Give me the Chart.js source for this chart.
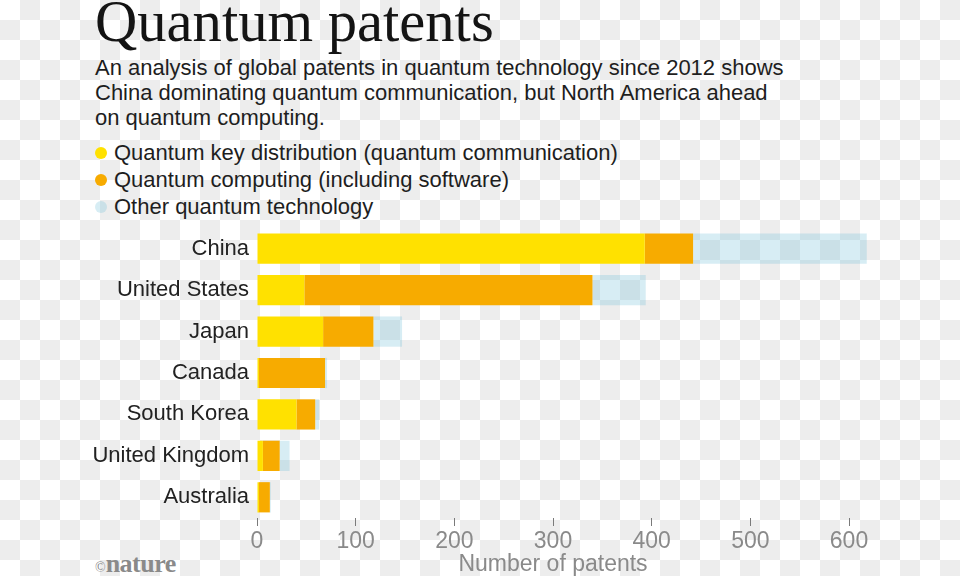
<!DOCTYPE html>
<html>
<head>
<meta charset="utf-8">
<script src="https://cdn.jsdelivr.net/npm/chart.js@4"></script>
<style>
  html, body { margin: 0; padding: 0; }
  body {
    width: 960px; height: 576px; position: relative; overflow: hidden;
    background: repeating-conic-gradient(#ededed 0 25%, #ffffff 0 50%) 0 0 / 40px 40px;
    font-family: "Liberation Sans", Arial, sans-serif;
  }
  #title {
    position: absolute; left: 95px; top: -7px;
    font-family: "Liberation Serif", serif; font-size: 58.6px; line-height: 58px;
    color: #141414;
  }
  #subtitle {
    position: absolute; left: 95px; top: 55px;
    font-size: 22px; line-height: 25px; color: #1e1e1e;
  }
  #legend { position: absolute; left: 95px; top: 139px; font-size: 22px; line-height: 27px; color: #1e1e1e; }
  #legend div { position: relative; padding-left: 19px; }
  #legend span {
    position: absolute; left: 0; top: 8px; width: 12px; height: 12px; border-radius: 50%;
  }
  #logo {
    position: absolute; left: 95px; top: 551px; color: #8a8a8a;
    font-family: "Liberation Serif", serif; font-weight: bold; font-size: 26px; line-height: 26px;
    letter-spacing: -0.5px;
  }
  #logo small { font-size: 14px; font-weight: normal; letter-spacing: 0; }
  #wrap { position: absolute; left: 0; top: 220px; width: 960px; height: 356px; }
</style>
</head>
<body>
<div id="title">Quantum patents</div>
<div id="subtitle">An analysis of global patents in quantum technology since 2012 shows<br>China dominating quantum communication, but North America ahead<br>on quantum computing.</div>
<div id="legend"></div>
<div id="logo"><small>©</small>nature</div>
<div id="wrap"><canvas id="chart"></canvas></div>

<script>
// data
const countries = ['China', 'United States', 'Japan', 'Canada', 'South Korea', 'United Kingdom', 'Australia'];
const keyDistribution = [393, 48, 67, 2, 40, 6, 2];
const computing = [49, 292, 51, 67, 19, 17, 11];
const otherTech = [176, 54, 29, 2, 4, 10, 1];
const xTicks = [0, 100, 200, 300, 400, 500, 600];

const seriesNames = [
  'Quantum key distribution (quantum communication)',
  'Quantum computing (including software)',
  'Other quantum technology'
];
const seriesColors = ['#ffe100', '#f7ab00', 'rgba(110,190,215,0.28)'];

// legend as html
const legendEl = document.getElementById('legend');
seriesNames.forEach((name, i) => {
  const row = document.createElement('div');
  row.innerHTML = `<span style="background:${seriesColors[i]}"></span>${name}`;
  legendEl.appendChild(row);
});

const ctx = document.getElementById('chart');
new Chart(ctx, {
  type: 'bar',
  data: {
    labels: countries,
    datasets: [
      { label: seriesNames[0], data: keyDistribution, backgroundColor: seriesColors[0] },
      { label: seriesNames[1], data: computing, backgroundColor: seriesColors[1] },
      { label: seriesNames[2], data: otherTech, backgroundColor: seriesColors[2] }
    ]
  },
  options: {
    indexAxis: 'y',
    responsive: true,
    maintainAspectRatio: false,
    animation: false,
    datasets: {
      bar: { barPercentage: 0.73, categoryPercentage: 1, clip: false, borderWidth: 0 }
    },
    layout: { padding: { top: 8, right: 111, left: 0, bottom: 0 } },
    plugins: {
      legend: { display: false },
      tooltip: { enabled: false }
    },
    scales: {
      x: {
        stacked: true,
        min: 0,
        max: 600,
        afterBuildTicks: (scale) => { scale.ticks = xTicks.map((v) => ({ value: v })); },
        afterFit: (scale) => { scale.height = 58; scale.paddingLeft = 0; scale.paddingRight = 0; },
        border: { display: false },
        grid: { drawOnChartArea: false, drawTicks: true, tickLength: 8, color: '#7a7a7a' },
        ticks: { color: '#8a8a8a', font: { family: 'Liberation Sans', size: 23 }, padding: 2 },
        title: {
          display: true,
          text: 'Number of patents',
          color: '#8a8a8a',
          font: { family: 'Liberation Sans', size: 23 },
          padding: { top: 0, bottom: -2 }
        }
      },
      y: {
        stacked: true,
        afterFit: (scale) => { scale.width = 257; scale.paddingTop = 0; scale.paddingBottom = 0; },
        border: { display: false },
        grid: { display: false, drawTicks: false },
        ticks: { color: '#222', font: { family: 'Liberation Sans', size: 22 }, padding: 8 }
      }
    }
  }
});
</script>
</body>
</html>
